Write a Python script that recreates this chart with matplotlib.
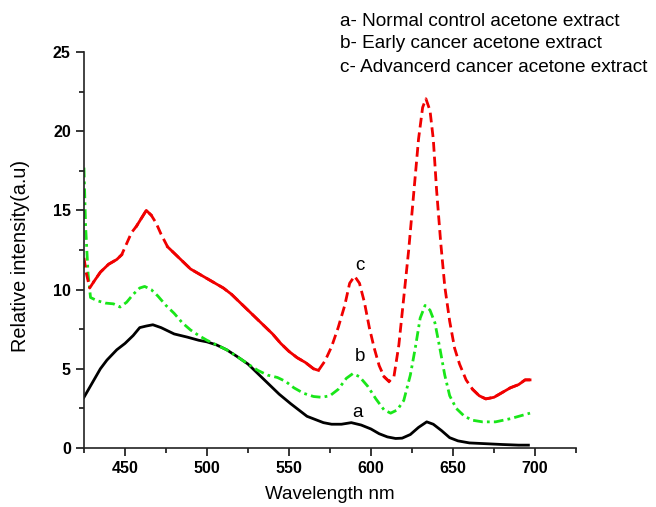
import matplotlib
matplotlib.use("Agg")
import matplotlib.pyplot as plt
import numpy as np
from matplotlib.ticker import FixedLocator

plt.rcParams['font.family'] = ['Liberation Sans', 'DejaVu Sans']

# curve a - normal control
wl_a = [425, 430, 435, 439, 445, 450, 455, 459, 463, 467, 472, 480, 488, 495, 500,
        506, 512, 518, 525, 531, 537, 544, 551, 556, 561, 566, 571, 576, 582, 588,
        594, 600, 605, 610, 615, 619, 624, 629, 634, 638, 643, 648, 653, 660, 670,
        680, 690, 696]
int_a = [3.2, 4.1, 5.0, 5.55, 6.2, 6.6, 7.1, 7.6, 7.7, 7.78, 7.6, 7.2, 7.0, 6.8, 6.7,
         6.5, 6.2, 5.8, 5.3, 4.7, 4.1, 3.4, 2.8, 2.4, 2.0, 1.8, 1.6, 1.5, 1.5, 1.6,
         1.45, 1.2, 0.9, 0.7, 0.6, 0.62, 0.85, 1.3, 1.65, 1.5, 1.1, 0.65, 0.45, 0.32, 0.27,
         0.22, 0.18, 0.18]

# curve b - early cancer
wl_b = [425, 426, 427.5, 429, 433, 438, 443, 447, 451, 455, 459, 462, 466, 470, 475,
        480, 485, 490, 495, 500, 506, 512, 518, 525, 531, 537, 543, 548, 553, 559,
        565, 570, 575, 580, 585, 589, 593, 598, 603, 608, 612, 616, 620, 624, 627,
        630, 633, 636, 639, 642, 645, 648, 652, 657, 662, 668, 676, 685, 697]
int_b = [17.7, 14.0, 11.0, 9.5, 9.3, 9.15, 9.1, 8.9, 9.2, 9.7, 10.1, 10.2, 10.0, 9.6, 9.0,
         8.5, 7.9, 7.45, 7.1, 6.8, 6.5, 6.2, 5.8, 5.3, 4.9, 4.6, 4.45, 4.2, 3.8, 3.45,
         3.25, 3.2, 3.3, 3.7, 4.4, 4.7, 4.5, 3.9, 3.1, 2.4, 2.2, 2.4, 3.0, 4.6, 6.3,
         8.2, 9.0, 8.7, 7.9, 6.3, 4.6, 3.3, 2.5, 2.0, 1.75, 1.65, 1.65, 1.85, 2.2]

# curve c - advanced cancer
wl_c = [425, 426.5, 428.5, 431, 435, 440, 445, 448, 451, 454, 457, 460, 463, 466, 469,
        472, 476, 480, 485, 490, 495, 500, 505, 510, 515, 520, 525, 530, 535, 540,
        545, 550, 555, 560, 565, 568, 572, 576, 580, 584, 587, 590, 593, 596, 599,
        602, 605, 608, 611, 614, 617, 620, 623, 626, 629, 631.5, 633.5, 636, 638, 640,
        642.5, 645, 648, 651, 654, 658, 662, 666, 670, 675, 680, 685, 690, 694, 697]
int_c = [12.0, 11.0, 10.1, 10.5, 11.1, 11.6, 11.9, 12.2, 12.9, 13.6, 14.0, 14.5, 15.0, 14.7, 14.2,
         13.5, 12.7, 12.3, 11.8, 11.3, 11.0, 10.7, 10.4, 10.1, 9.7, 9.2, 8.7, 8.2, 7.7, 7.2,
         6.6, 6.1, 5.7, 5.4, 5.0, 4.9, 5.5, 6.4, 7.6, 9.0, 10.4, 10.85, 10.4, 9.2, 7.6,
         6.3, 5.2, 4.5, 4.2, 4.5, 6.5, 9.5, 12.5, 16.0, 19.5, 21.5, 22.05, 21.3, 19.5, 16.3,
         13.0, 10.2, 8.0, 6.3, 5.3, 4.3, 3.7, 3.3, 3.1, 3.2, 3.5, 3.8, 4.0, 4.3, 4.3]

legend_lines = ["a- Normal control acetone extract",
                "b- Early cancer acetone extract",
                "c- Advancerd cancer acetone extract"]

fig = plt.figure(figsize=(6.56, 5.07), dpi=100)
ax = fig.add_axes([0.128, 0.1164, 0.75, 0.781])

ax.plot(wl_a, int_a, color="black", lw=2.0, solid_joinstyle="round")
ax.plot(wl_b, int_b, color="#19e619", lw=2.0, linestyle=(0, (3.5, 1.5, 1, 1.5)))

# red curve looks solid where it is flat and dashed where it is steep
wc = np.array(wl_c)
yc = np.array(int_c)
slope = np.abs(np.gradient(yc, wc))
flat = slope < 0.17
ax.plot(wc, yc, color="#f00000", lw=2.0, linestyle=(0, (3.5, 1.8)))
ax.plot(wc, np.where(flat, yc, np.nan), color="#f00000", lw=2.0, solid_joinstyle="round")

ax.set_xlim(425, 725)
ax.set_ylim(0, 25)
ax.xaxis.set_major_locator(FixedLocator([450, 500, 550, 600, 650, 700]))
ax.xaxis.set_minor_locator(FixedLocator([425, 475, 525, 575, 625, 675, 725]))
ax.yaxis.set_major_locator(FixedLocator([0, 5, 10, 15, 20, 25]))
ax.yaxis.set_minor_locator(FixedLocator([2.5, 7.5, 12.5, 17.5, 22.5]))
ax.tick_params(which="major", direction="out", length=6, width=1.1, labelsize=11.5)
ax.tick_params(which="minor", direction="out", length=3.5, width=1.1)
for lab in ax.get_xticklabels() + ax.get_yticklabels():
    lab.set_fontweight("bold")

for s in ["top", "right"]:
    ax.spines[s].set_visible(False)
for s in ["left", "bottom"]:
    ax.spines[s].set_linewidth(1.2)
    ax.spines[s].set_color("#222222")

ax.set_xlabel("Wavelength nm", fontsize=13.5, labelpad=7)
ax.set_ylabel("Relative intensity(a.u)", fontsize=14.3, va="center")
ax.yaxis.set_label_coords(-0.13, 0.485)

ax.text(593, 11.55, "c", fontsize=13.5, ha="center", va="center")
ax.text(593, 5.76, "b", fontsize=13.5, ha="center", va="center")
ax.text(591.5, 2.25, "a", fontsize=13.5, ha="center", va="center")

for i, line in enumerate(legend_lines):
    fig.text(340 / 656, 1 - (21 + 23 * i) / 507, line, fontsize=13.7, va="center", ha="left")

fig.savefig("out.png", dpi=100)
